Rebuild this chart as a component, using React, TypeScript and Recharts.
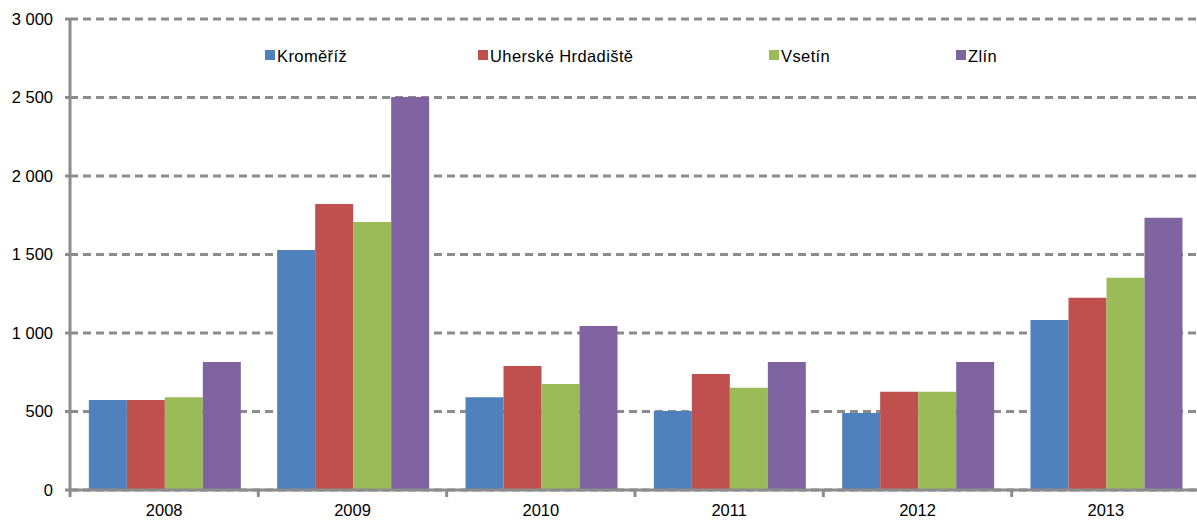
import React from "react";
import { BarChart, Bar, XAxis, YAxis, CartesianGrid } from "recharts";

const years = ["2008", "2009", "2010", "2011", "2012", "2013"];
const kromeriz = [573, 1529, 590, 503, 490, 1083];
const uhHradiste = [573, 1822, 790, 739, 626, 1225];
const vsetin = [590, 1707, 675, 652, 626, 1352];
const zlin = [815, 2503, 1045, 815, 815, 1734];
const yTicks = [0, 500, 1000, 1500, 2000, 2500, 3000];

const seriesNames = ["Kroměříž", "Uherské Hrdadiště", "Vsetín", "Zlín"];
const seriesKeys = ["k", "u", "v", "z"];
const colors = ["#4f81bd", "#c0504d", "#9bbb59", "#8064a2"];
const legendLefts = [265, 478, 769, 956];

const data = years.map((y, i) => ({
  year: y,
  k: kromeriz[i],
  u: uhHradiste[i],
  v: vsetin[i],
  z: zlin[i],
}));

const W = 1200;
const H = 523;
const LEFT = 70;
const AXIS = "#8c8c8c";
const FONT = "'Liberation Sans', Arial, sans-serif";

const fmt = (v: number) => {
  const s = String(v);
  return s.length > 3 ? s.slice(0, s.length - 3) + " " + s.slice(-3) : s;
};

const XTick = (props: any) => {
  const { x, y, payload } = props;
  const half = payload && payload.offset ? payload.offset : (W - LEFT) / years.length / 2;
  return (
    <g>
      <line x1={x - half} x2={x - half} y1={y - 1} y2={y + 7} stroke={AXIS} strokeWidth={3} />
      <text x={x} y={y + 20} dy="0.355em" textAnchor="middle" fill="#000" fontSize={16.5} fontFamily={FONT}>
        {payload.value}
      </text>
    </g>
  );
};

const LegendBox = () => (
  <div style={{ position: "absolute", left: 0, top: 46, height: 20, width: W, pointerEvents: "none" }}>
    {seriesNames.map((n, i) => (
      <div
        key={n}
        style={{
          position: "absolute",
          left: legendLefts[i],
          top: 0,
          display: "flex",
          alignItems: "center",
          fontFamily: FONT,
          fontSize: 16.5,
          letterSpacing: 0.4,
          color: "#000",
          whiteSpace: "nowrap",
          lineHeight: "20px",
        }}
      >
        <span style={{ display: "inline-block", width: 10, height: 10, background: colors[i], marginRight: 2, marginTop: -2 }} />
        <span>{n}</span>
      </div>
    ))}
  </div>
);

export default function App() {
  return (
    <div style={{ position: "absolute", left: 0, top: 0, width: 1197, height: H, overflow: "hidden", background: "#fff" }}>
      <BarChart
        width={W}
        height={H}
        data={data}
        margin={{ top: 19, right: 0, left: 0, bottom: 0 }}
        barCategoryGap="10%"
        barGap={0}
      >
        <CartesianGrid horizontal vertical={false} stroke={AXIS} strokeWidth={3} strokeDasharray="8 5" />
        <XAxis
          dataKey="year"
          height={33}
          axisLine={{ stroke: AXIS, strokeWidth: 3 }}
          tickLine={false}
          tickSize={0}
          tickMargin={0}
          tick={<XTick />}
          interval={0}
        />
        <YAxis
          width={LEFT}
          domain={[0, 3000]}
          ticks={yTicks}
          interval={0}
          tickFormatter={fmt}
          axisLine={{ stroke: AXIS, strokeWidth: 3 }}
          tickLine={{ stroke: AXIS, strokeWidth: 3 }}
          tickSize={5}
          tickMargin={12}
          tick={{ fill: "#000", fontSize: 16.5, fontFamily: FONT }}
        />
        {seriesKeys.map((k, i) => (
          <Bar key={k} dataKey={k} name={seriesNames[i]} fill={colors[i]} isAnimationActive={false} />
        ))}
      </BarChart>
      <LegendBox />
    </div>
  );
}
